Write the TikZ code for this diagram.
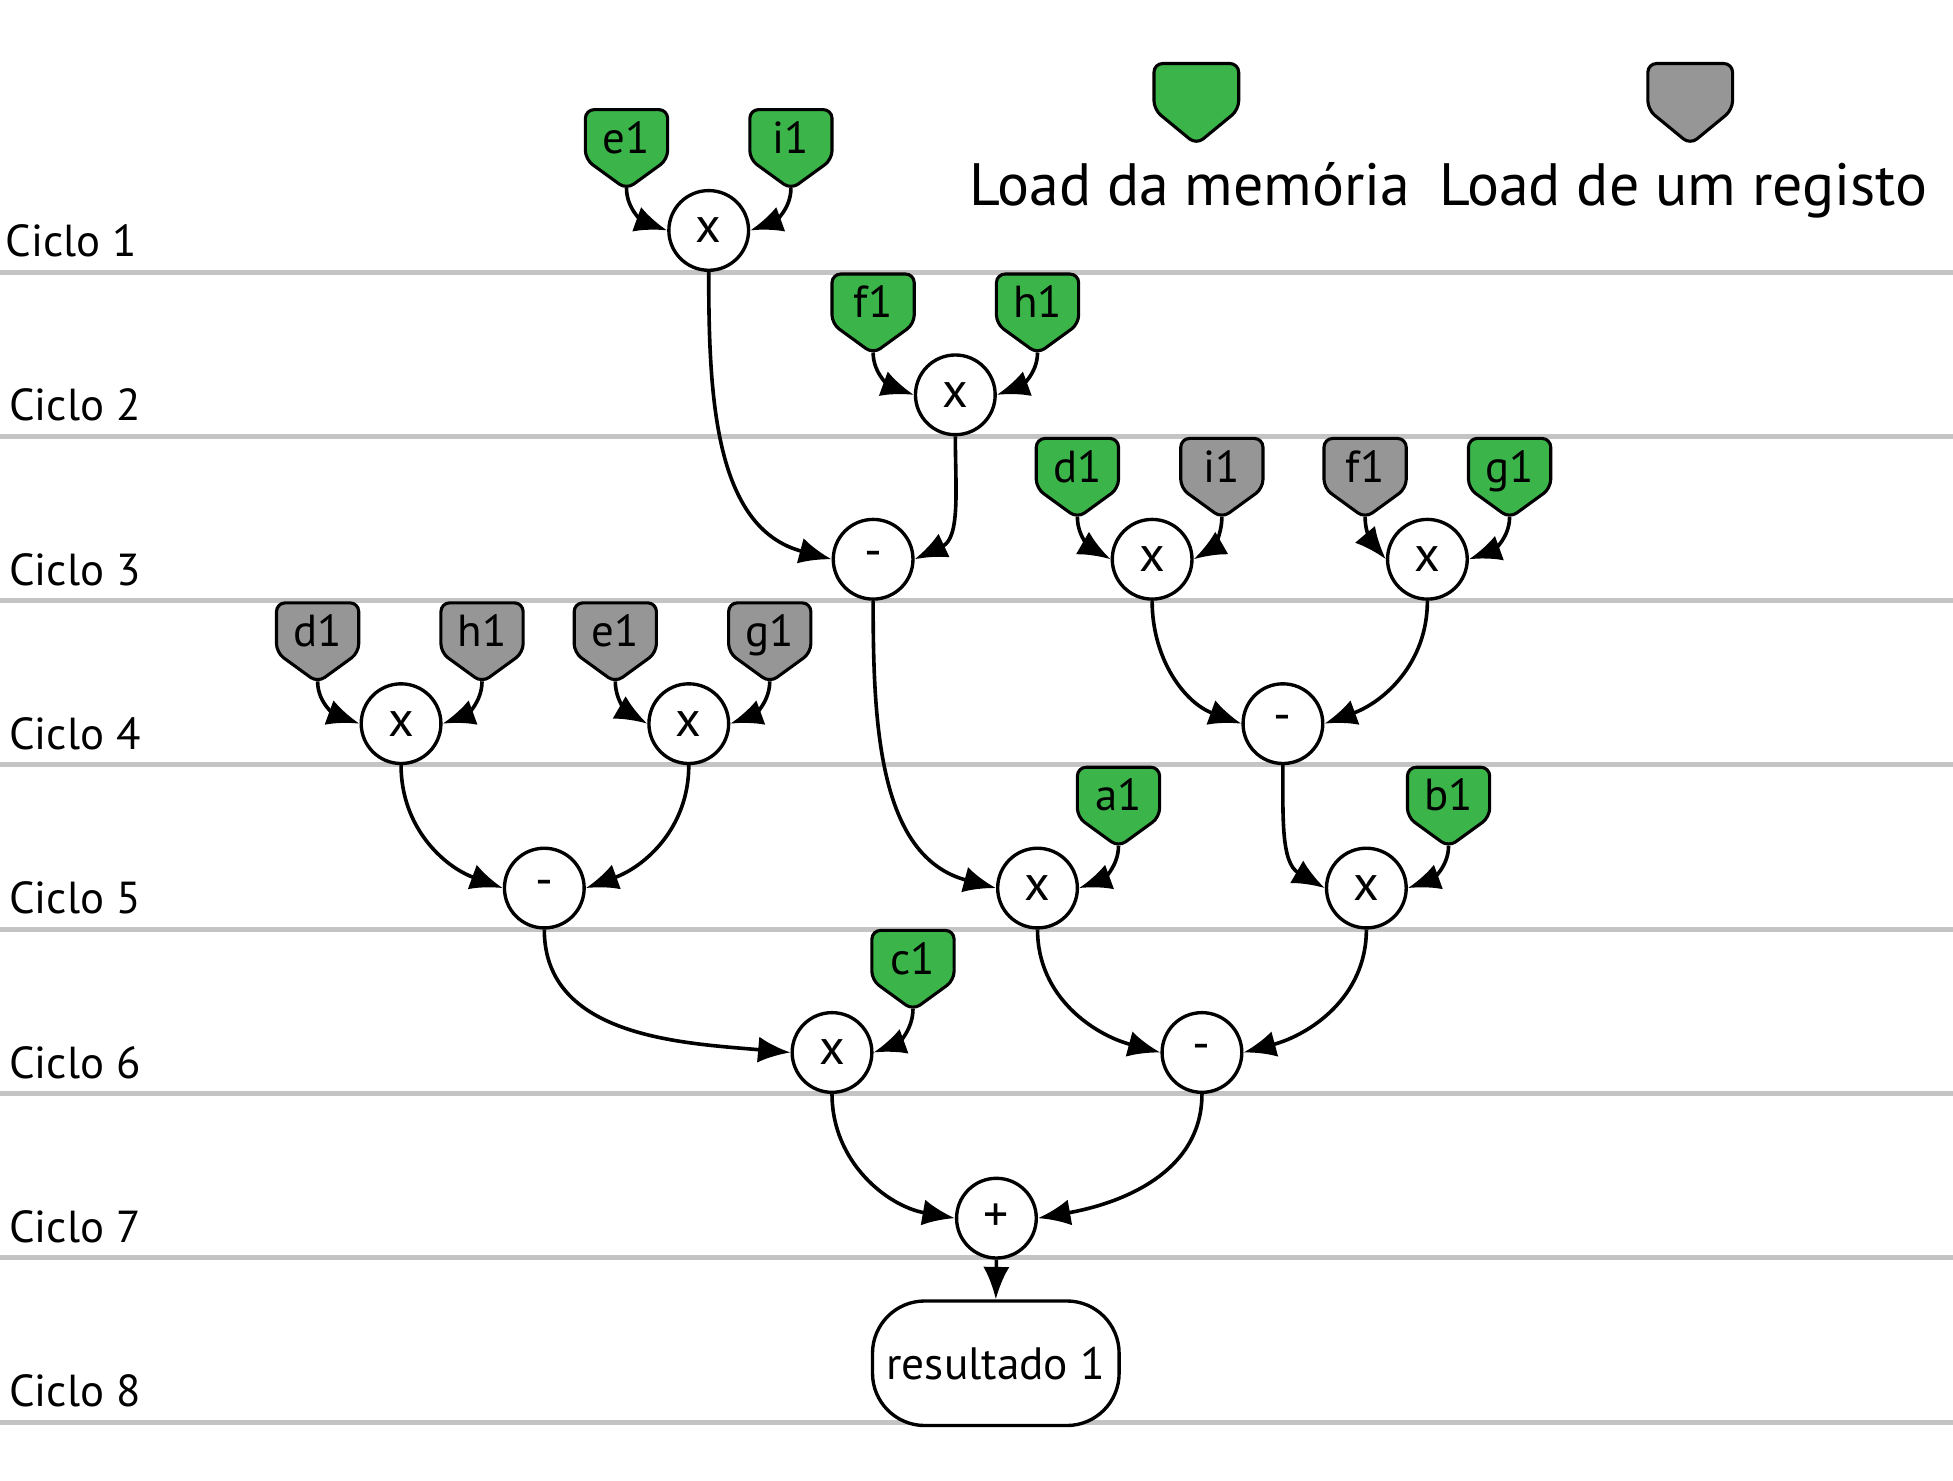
\documentclass[tikz,border=0pt]{standalone}
\usepackage{fontspec}
\setmainfont{PT Sans}
\usetikzlibrary{arrows.meta}
\definecolor{memgreen}{HTML}{3BB54A}
\definecolor{reggray}{HTML}{969696}
\definecolor{cyclegray}{HTML}{C4C4C4}

% #1 name, #2 centre x, #3 top y (downwards), #4 label, #5 fill
\newcommand\loadtag[5]{%
  \draw[tagshape,fill=#5] (#2-33,-#3) -- (#2+33,-#3) -- (#2+33,-#3-40) -- (#2,-#3-64) -- (#2-33,-#3-40) -- cycle;
  \node[tagtext] (#1) at (#2,-#3-35) {#4};
  \coordinate (#1t) at (#2,-#3-63);
}
% legend tag: #1 name, #2 centre x, #3 fill
\newcommand\legendtag[3]{%
  \draw[tagshape,fill=#3] (#2-34,-51) -- (#2+34,-51) -- (#2+34,-88) -- (#2,-116) -- (#2-34,-88) -- cycle;
  \coordinate (#1) at (#2,-83);
}

\begin{document}
\begin{tikzpicture}[x=0.5pt,y=0.5pt,
  cycleline/.style={cyclegray,line width=2pt},
  cyclelabel/.style={anchor=base west,inner sep=0pt,font=\fontsize{18}{22}\selectfont},
  tagshape/.style={draw=black,line width=1.25pt,rounded corners=3.5pt},
  tagtext/.style={anchor=base,inner sep=0pt,font=\fontsize{18}{20}\selectfont},
  op/.style={circle,draw,fill=white,line width=1.35pt,minimum size=32pt,inner sep=0pt,font=\fontsize{20}{22}\selectfont},
  resbox/.style={draw,fill=white,line width=1.35pt,rounded corners=21pt,minimum width=99pt,minimum height=50pt,inner sep=0pt,font=\fontsize{18.2}{20}\selectfont},
  conn/.style={line width=1.45pt,-{Latex[length=13pt,width=10.5pt]}},
  legendtext/.style={anchor=base,inner sep=0pt,font=\fontsize{24}{28}\selectfont},
]
\useasboundingbox (0,0) rectangle (1568,-1189);

% cycle lines and labels
\foreach \i/\y/\x in {1/218.4/4,2/350.3/7,3/482.2/7,4/614.1/7,5/746.0/7,6/877.9/7,7/1009.8/7,8/1141.7/7}{
  \draw[cycleline] (0,-\y) -- (1568,-\y);
  \node[cyclelabel] (c\i) at (\x,-\y+12.4) {Ciclo \i};
}

% legend
\legendtag{lgm}{960.5}{memgreen}
\legendtag{lgr}{1357}{reggray}
\node[legendtext] (lgmtext) at (955.5,-164.6) {Load da memória};
\node[legendtext] (lgrtext) at (1351.5,-164.6) {Load de um registo};

% load tags
\loadtag{e1a}{503}{88}{e1}{memgreen}
\loadtag{i1a}{635}{88}{i1}{memgreen}
\loadtag{f1a}{701}{220}{f1}{memgreen}
\loadtag{h1a}{833}{220}{h1}{memgreen}
\loadtag{d1a}{865}{352}{d1}{memgreen}
\loadtag{i1b}{981}{352}{i1}{reggray}
\loadtag{f1b}{1096}{352}{f1}{reggray}
\loadtag{g1a}{1212}{352}{g1}{memgreen}
\loadtag{d1b}{255}{484}{d1}{reggray}
\loadtag{h1b}{387}{484}{h1}{reggray}
\loadtag{e1b}{494}{484}{e1}{reggray}
\loadtag{g1b}{618}{484}{g1}{reggray}
\loadtag{a1a}{898}{616}{a1}{memgreen}
\loadtag{b1a}{1163}{616}{b1}{memgreen}
\loadtag{c1a}{733}{747}{c1}{memgreen}

% operators
\node[op] (m1) at (569,-185) {x};
\node[op] (m2) at (767,-317) {x};
\node[op] (s3) at (701,-449) {-};
\node[op] (m3a) at (925,-449) {x};
\node[op] (m3b) at (1146,-449) {x};
\node[op] (m4a) at (322,-581) {x};
\node[op] (m4b) at (553,-581) {x};
\node[op] (s4) at (1030,-581) {-};
\node[op] (s5) at (437,-713) {-};
\node[op] (m5a) at (833,-713) {x};
\node[op] (m5b) at (1097,-713) {x};
\node[op] (m6) at (668,-845) {x};
\node[op] (s6) at (965,-845) {-};
\node[op] (p7) at (800,-978) {+};
\node[resbox] (res) at (799.5,-1094.5) {resultado 1};

% connectors
\draw[conn] (e1at) to[out=-90,in=160] (m1.west);
\draw[conn] (i1at) to[out=-90,in=20] (m1.east);
\draw[conn] (m1.south) to[out=-90,in=165] (s3.west);
\draw[conn] (f1at) to[out=-90,in=160] (m2.west);
\draw[conn] (h1at) to[out=-90,in=20] (m2.east);
\draw[conn] (m2.south) to[out=-90,in=25] (s3.east);
\draw[conn] (d1at) to[out=-90,in=150] (m3a.west);
\draw[conn] (i1bt) to[out=-90,in=30] (m3a.east);
\draw[conn] (f1bt) to[out=-90,in=130] (m3b.west);
\draw[conn] (g1at) to[out=-90,in=20] (m3b.east);
\draw[conn] (d1bt) to[out=-90,in=160] (m4a.west);
\draw[conn] (h1bt) to[out=-90,in=20] (m4a.east);
\draw[conn] (e1bt) to[out=-90,in=150] (m4b.west);
\draw[conn] (g1bt) to[out=-90,in=20] (m4b.east);
\draw[conn] (m3a.south) to[out=-90,in=160] (s4.west);
\draw[conn] (m3b.south) to[out=-90,in=20] (s4.east);
\draw[conn] (m4a.south) to[out=-90,in=160] (s5.west);
\draw[conn] (m4b.south) to[out=-90,in=20] (s5.east);
\draw[conn] (s3.south) to[out=-90,in=165] (m5a.west);
\draw[conn] (a1at) to[out=-90,in=20] (m5a.east);
\draw[conn] (s4.south) to[out=-90,in=150] (m5b.west);
\draw[conn] (b1at) to[out=-90,in=20] (m5b.east);
\draw[conn] (s5.south) to[out=-90,in=175] (m6.west);
\draw[conn] (c1at) to[out=-90,in=20] (m6.east);
\draw[conn] (m5a.south) to[out=-90,in=165] (s6.west);
\draw[conn] (m5b.south) to[out=-90,in=15] (s6.east);
\draw[conn] (m6.south) to[out=-90,in=170] (p7.west);
\draw[conn] (s6.south) to[out=-90,in=10] (p7.east);
\draw[conn] (p7.south) -- (res.north);
\end{tikzpicture}
\end{document}
